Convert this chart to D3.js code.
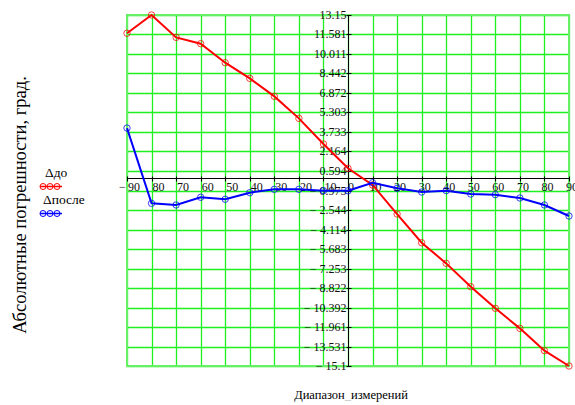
<!DOCTYPE html>
<html>
<head>
<meta charset="utf-8">
<script src="https://cdn.jsdelivr.net/npm/d3@7"></script>
<style>
  html, body { margin: 0; padding: 0; background: #fff; }
  svg { display: block; font-family: 'Liberation Serif', 'Times New Roman', serif; }
</style>
</head>
<body>
<svg id="chart" width="575" height="405"></svg>
<script>

/* ── Data ── */
const rangeX = [-90, -80, -70, -60, -50, -40, -30, -20, -10, 0, 10, 20, 30, 40, 50, 60, 70, 80, 90];

const deltaBefore = [11.68, 13.15, 11.35, 10.84, 9.31, 8.05, 6.60, 4.83, 2.77, 0.81,
                     -0.53, -2.87, -5.18, -6.84, -8.72, -10.46, -12.07, -13.87, -15.1];

const deltaAfter = [4.05, -2.01, -2.14, -1.52, -1.68, -1.15, -0.88, -0.88, -0.99, -1.0,
                    -0.35, -0.80, -1.10, -0.99, -1.26, -1.31, -1.58, -2.14, -3.03];

const yTicks = [13.15, 11.581, 10.011, 8.442, 6.872, 5.303, 3.733, 2.164, 0.594, -0.975,
                -2.544, -4.114, -5.683, -7.253, -8.822, -10.392, -11.961, -13.531, -15.1];

const xTicks = rangeX;

const series = [
  { label: 'Δдо',    values: deltaBefore, color: '#ff0000' },
  { label: 'Δпосле', values: deltaAfter,  color: '#0000ff' }
];

/* ── Layout ── */
const svg = d3.select('#chart');
const plotLeft = 127, plotRight = 569, plotTop = 15, plotBottom = 366;

const xScale = d3.scaleLinear().domain([-90, 90]).range([plotLeft, plotRight]);
const yScale = d3.scaleLinear().domain([-15.1, 13.15]).range([plotBottom, plotTop]);

const gridColor = '#1ff01f';

/* ── Grid ── */
svg.append('g')
  .selectAll('line')
  .data(xTicks)
  .join('line')
  .attr('x1', d => Math.round(xScale(d)) + 0.5)
  .attr('x2', d => Math.round(xScale(d)) + 0.5)
  .attr('y1', plotTop).attr('y2', plotBottom)
  .attr('stroke', gridColor).attr('stroke-width', 1.3);

svg.append('g')
  .selectAll('line')
  .data(yTicks)
  .join('line')
  .attr('y1', d => Math.round(yScale(d)) + 0.5)
  .attr('y2', d => Math.round(yScale(d)) + 0.5)
  .attr('x1', plotLeft).attr('x2', plotRight)
  .attr('stroke', gridColor).attr('stroke-width', 1.3);

/* outer frame, a bit lighter and thicker */
svg.append('rect')
  .attr('x', plotLeft).attr('y', plotTop)
  .attr('width', plotRight - plotLeft).attr('height', plotBottom - plotTop)
  .attr('fill', 'none')
  .attr('stroke', '#66f066').attr('stroke-width', 2);

/* ── Axes crossing at zero ── */
const x0 = Math.round(xScale(0)) + 0.5;
const y0 = Math.round(yScale(0)) + 0.5;

svg.append('line')
  .attr('x1', plotLeft).attr('x2', plotRight)
  .attr('y1', y0).attr('y2', y0)
  .attr('stroke', '#000').attr('stroke-width', 1);

svg.append('line')
  .attr('x1', x0).attr('x2', x0)
  .attr('y1', plotTop).attr('y2', plotBottom)
  .attr('stroke', '#000').attr('stroke-width', 1);

/* y ticks + labels */
svg.append('g')
  .selectAll('line')
  .data(yTicks)
  .join('line')
  .attr('x1', x0 - 2).attr('x2', x0 + 3)
  .attr('y1', d => Math.round(yScale(d)) + 0.5)
  .attr('y2', d => Math.round(yScale(d)) + 0.5)
  .attr('stroke', '#000');

svg.append('g')
  .selectAll('text')
  .data(yTicks)
  .join('text')
  .attr('x', x0 - 2)
  .attr('y', d => yScale(d) + 4)
  .attr('text-anchor', 'end')
  .attr('font-size', '12px')
  .attr('fill', '#111')
  .text(d => d < 0 ? '\u2212 ' + Math.abs(d) : d);

/* x ticks + labels (Mathcad style: minus shown only on the first) */
svg.append('g')
  .selectAll('line')
  .data(xTicks)
  .join('line')
  .attr('x1', d => Math.round(xScale(d)) + 0.5)
  .attr('x2', d => Math.round(xScale(d)) + 0.5)
  .attr('y1', y0 - 2).attr('y2', y0 + 3)
  .attr('stroke', '#000');

svg.append('g')
  .selectAll('text')
  .data(xTicks)
  .join('text')
  .attr('x', d => d < 0 ? xScale(d) + 1 : xScale(d) + 3)
  .attr('y', y0 + 12)
  .attr('text-anchor', d => d < 0 ? 'start' : 'middle')
  .attr('font-size', '12px')
  .attr('fill', '#111')
  .text(d => Math.abs(d));

svg.append('text')
  .attr('x', xScale(-90) - 8)
  .attr('y', y0 + 12)
  .attr('font-size', '12px')
  .attr('fill', '#111')
  .text('\u2212');

/* ── Series lines + markers ── */
const line = d3.line()
  .x((d, i) => xScale(rangeX[i]))
  .y(d => yScale(d));

series.forEach(s => {
  const g = svg.append('g');

  g.append('path')
    .datum(s.values)
    .attr('d', line)
    .attr('fill', 'none')
    .attr('stroke', s.color)
    .attr('stroke-width', 2);

  g.selectAll('circle')
    .data(s.values)
    .join('circle')
    .attr('cx', (d, i) => xScale(rangeX[i]))
    .attr('cy', d => yScale(d))
    .attr('r', 3.2)
    .attr('fill', 'none')
    .attr('stroke', s.color)
    .attr('stroke-width', 1)
    .attr('stroke-opacity', 0.75);
});

/* ── Legend ── */
const legend = svg.append('g');

series.forEach((s, i) => {
  const ly = 177 + i * 27;

  legend.append('text')
    .attr('x', i === 0 ? 45 : 43).attr('y', ly)
    .attr('font-size', '13.5px')
    .attr('fill', '#000')
    .text(s.label);

  legend.append('line')
    .attr('x1', 40).attr('x2', 62)
    .attr('y1', ly + 9.5).attr('y2', ly + 9.5)
    .attr('stroke', s.color).attr('stroke-width', 1.5);

  legend.selectAll(null)
    .data([43, 50, 57])
    .join('circle')
    .attr('cx', d => d)
    .attr('cy', ly + 9.5)
    .attr('r', 3)
    .attr('fill', 'none')
    .attr('stroke', s.color)
    .attr('stroke-width', 1);
});

/* ── Axis titles ── */
svg.append('text')
  .attr('transform', 'translate(26, 205) rotate(-90)')
  .attr('text-anchor', 'middle')
  .attr('font-size', '18.5px')
  .attr('fill', '#000')
  .text('Абсолютные погрешности, град.');

const xt = svg.append('text')
  .attr('x', 351).attr('y', 399)
  .attr('text-anchor', 'middle')
  .attr('font-size', '12.5px')
  .attr('fill', '#000');
xt.append('tspan').text('Диапазон');
xt.append('tspan').attr('fill', '#bbb').text('_');
xt.append('tspan').text('измерений');

</script>
</body>
</html>
